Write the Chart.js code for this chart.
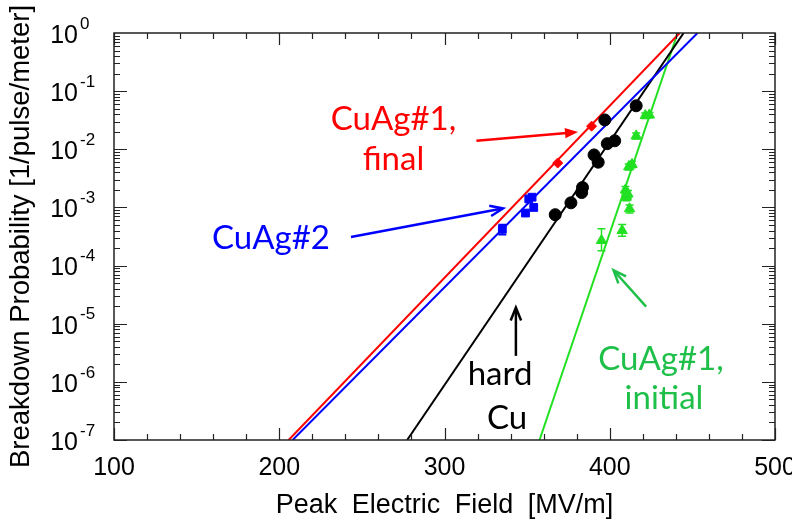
<!DOCTYPE html>
<html>
<head>
<meta charset="utf-8">
<script src="https://cdn.jsdelivr.net/npm/chart.js@4/dist/chart.umd.min.js"></script>
<style>
  html, body { margin: 0; padding: 0; background: #fff; }
</style>
</head>
<body>
<canvas id="bdr" width="792" height="525"></canvas>
<script>
// axis ticks
var fieldTicks = [100, 200, 300, 400, 500];
var probExponents = [0, -1, -2, -3, -4, -5, -6, -7];

// CuAg#2 (blue squares)
var cuag2Field = [335, 349, 351, 353, 354];
var cuag2Prob  = [4.2e-4, 8.0e-4, 1.4e-3, 1.5e-3, 1.0e-3];
var cuag2Lo    = [3.4e-4, null, null, null, null];
var cuag2Hi    = [5.1e-4, null, null, null, null];

// CuAg#1 final (red diamonds)
var finalField = [368.5, 389];
var finalProb  = [5.8e-3, 2.5e-2];

// hard Cu (black circles)
var hardCuField = [367, 376.5, 383, 383.5, 390.5, 393, 397, 398.5, 403, 416];
var hardCuProb  = [7.5e-4, 1.2e-3, 1.8e-3, 2.2e-3, 8.0e-3, 6.0e-3, 3.2e-2, 1.25e-2, 1.4e-2, 5.6e-2];

// CuAg#1 initial (green triangles)
var initialField = [395, 407.5, 409.5, 410, 411, 412, 411.5, 413.5, 416, 421.5, 424];
var initialProb  = [2.7e-4, 4.0e-4, 2.0e-3, 1.5e-3, 1.7e-3, 9.5e-4, 5.0e-3, 5.5e-3, 1.7e-2, 3.8e-2, 3.9e-2];
var initialLo    = [1.8e-4, 3.2e-4, 1.7e-3, 1.3e-3, 1.45e-3, 8.0e-4, 4.4e-3, 4.8e-3, 1.5e-2, 3.4e-2, 3.5e-2];
var initialHi    = [4.3e-4, 5.1e-4, 2.3e-3, 1.7e-3, 1.95e-3, 1.1e-3, 5.6e-3, 6.2e-3, 1.9e-2, 4.2e-2, 4.3e-2];

// exponential fits, end points on the frame
var fitProbEnds     = [1e-7, 1];
var fitFinalField   = [205.7, 442.3];
var fitCuag2Field   = [208.1, 453.1];
var fitHardCuField  = [277.4, 444.7];
var fitInitialField = [357.5, 441.1];

var RED = '#ff0000', BLUE = '#0000ff', BLACK = '#000000', GREEN = '#22e022', LABELGREEN = '#1fc04a';

function pts(xs, ys) {
  var out = [];
  for (var i = 0; i < xs.length; i++) out.push({x: xs[i], y: ys[i]});
  return out;
}

function fitSet(xs, color) {
  return {
    type: 'line', data: pts(xs, fitProbEnds), borderColor: color, borderWidth: 2,
    pointRadius: 0, fill: false, tension: 0, order: 10
  };
}

function markSet(xs, ys, color, style, r) {
  return {
    type: 'scatter', data: pts(xs, ys), backgroundColor: color, borderColor: color,
    pointStyle: style, pointRadius: r, borderWidth: 1, order: 1
  };
}

// text labels and arrows, placed in data units
var notes = [
  {text: 'CuAg#1,', color: RED, f: 269.1, p: 3.3e-2},
  {text: 'final', color: RED, f: 269.1, p: 6.7e-3},
  {text: 'CuAg#2', color: BLUE, f: 195.0, p: 2.9e-4},
  {text: 'hard', color: BLACK, f: 333.6, p: 1.35e-6},
  {text: 'Cu', color: BLACK, f: 337.8, p: 2.4e-7},
  {text: 'CuAg#1,', color: LABELGREEN, f: 431.0, p: 2.4e-6},
  {text: 'initial', color: LABELGREEN, f: 432.8, p: 5.3e-7}
];
var arrows = [
  {color: RED, from: [319.3, 1.40e-2], to: [380.8, 1.98e-2], filled: true},
  {color: BLUE, from: [243.4, 3.1e-4], to: [335.4, 9.6e-4], filled: false},
  {color: BLACK, from: [343.2, 2.8e-6], to: [343.2, 1.9e-5], filled: false},
  {color: LABELGREEN, from: [422.0, 1.97e-5], to: [402.3, 8.3e-5], filled: false}
];

var errorBars = {
  id: 'errorBars',
  beforeDatasetsDraw: function(chart) {
    var ctx = chart.ctx, xs = chart.scales.x, ys = chart.scales.y;
    function draw(fx, lo, hi, color) {
      ctx.strokeStyle = color; ctx.lineWidth = 1.5;
      for (var i = 0; i < fx.length; i++) {
        if (lo[i] == null) continue;
        var x = xs.getPixelForValue(fx[i]);
        var y1 = ys.getPixelForValue(lo[i]), y2 = ys.getPixelForValue(hi[i]);
        ctx.beginPath();
        ctx.moveTo(x, y1); ctx.lineTo(x, y2);
        ctx.moveTo(x - 4, y1); ctx.lineTo(x + 4, y1);
        ctx.moveTo(x - 4, y2); ctx.lineTo(x + 4, y2);
        ctx.stroke();
      }
    }
    ctx.save();
    draw(cuag2Field, cuag2Lo, cuag2Hi, BLUE);
    draw(initialField, initialLo, initialHi, GREEN);
    ctx.restore();
  }
};

var frame = {
  id: 'frame',
  afterDraw: function(chart) {
    var ctx = chart.ctx, a = chart.chartArea, xs = chart.scales.x, ys = chart.scales.y;
    ctx.save();
    ctx.strokeStyle = '#222'; ctx.lineWidth = 1.5;
    ctx.strokeRect(a.left, a.top, a.right - a.left, a.bottom - a.top);

    // inward ticks on all four sides
    ctx.lineWidth = 1.2;
    ctx.beginPath();
    for (var f = 100; f <= 500; f += 20) {
      var x = Math.round(xs.getPixelForValue(f)) + 0.5;
      var len = (f % 100 === 0) ? 12 : 6;
      ctx.moveTo(x, a.bottom); ctx.lineTo(x, a.bottom - len);
      ctx.moveTo(x, a.top); ctx.lineTo(x, a.top + len);
    }
    for (var e = -7; e < 0; e++) {
      for (var m = 1; m <= 9; m++) {
        var y = Math.round(ys.getPixelForValue(m * Math.pow(10, e))) + 0.5;
        var l = (m === 1) ? 13 : 6;
        ctx.moveTo(a.left, y); ctx.lineTo(a.left + l, y);
        ctx.moveTo(a.right, y); ctx.lineTo(a.right - l, y);
      }
    }
    ctx.stroke();

    // tick labels
    ctx.fillStyle = '#000';
    ctx.font = '25px "Liberation Sans", Arial, sans-serif';
    ctx.textAlign = 'center'; ctx.textBaseline = 'middle';
    fieldTicks.forEach(function(v) {
      ctx.fillText(String(v), xs.getPixelForValue(v), 468);
    });
    probExponents.forEach(function(ex) {
      var y = ys.getPixelForValue(Math.pow(10, ex));
      ctx.font = '25px "Liberation Sans", Arial, sans-serif';
      ctx.textAlign = 'right'; ctx.textBaseline = 'middle';
      ctx.fillText('10', 78, y + 3);
      ctx.font = '17px "Liberation Sans", Arial, sans-serif';
      ctx.textAlign = 'left';
      ctx.fillText(String(ex), 80, y - 9);
    });

    // axis titles
    ctx.font = '27px "Liberation Sans", Arial, sans-serif';
    ctx.textAlign = 'center'; ctx.textBaseline = 'middle';
    if ('wordSpacing' in ctx) ctx.wordSpacing = '7px';
    ctx.fillText('Peak Electric Field [MV/m]', (a.left + a.right) / 2, 506);
    if ('wordSpacing' in ctx) ctx.wordSpacing = '0px';
    ctx.font = '27.5px "Liberation Sans", Arial, sans-serif';
    ctx.translate(21, (a.top + a.bottom) / 2);
    ctx.rotate(-Math.PI / 2);
    ctx.fillText('Breakdown Probability [1/pulse/meter]', 0, 0);
    ctx.restore();

    // annotations
    ctx.save();
    ctx.font = '33px Lato, "Open Sans", sans-serif';
    ctx.textAlign = 'center'; ctx.textBaseline = 'middle';
    notes.forEach(function(n) {
      ctx.fillStyle = n.color;
      ctx.fillText(n.text, xs.getPixelForValue(n.f), ys.getPixelForValue(n.p));
    });
    arrows.forEach(function(ar) {
      var x1 = xs.getPixelForValue(ar.from[0]), y1 = ys.getPixelForValue(ar.from[1]);
      var x2 = xs.getPixelForValue(ar.to[0]), y2 = ys.getPixelForValue(ar.to[1]);
      var ang = Math.atan2(y2 - y1, x2 - x1), hl = 14, hw = 0.38;
      ctx.strokeStyle = ar.color; ctx.fillStyle = ar.color; ctx.lineWidth = 2.5;
      ctx.beginPath(); ctx.moveTo(x1, y1);
      ctx.lineTo(x2 - Math.cos(ang) * (ar.filled ? hl * 0.8 : 2), y2 - Math.sin(ang) * (ar.filled ? hl * 0.8 : 2));
      ctx.stroke();
      ctx.beginPath();
      ctx.moveTo(x2 - hl * Math.cos(ang - hw), y2 - hl * Math.sin(ang - hw));
      ctx.lineTo(x2, y2);
      ctx.lineTo(x2 - hl * Math.cos(ang + hw), y2 - hl * Math.sin(ang + hw));
      if (ar.filled) { ctx.closePath(); ctx.fill(); } else { ctx.stroke(); }
    });
    ctx.restore();
  }
};

new Chart(document.getElementById('bdr'), {
  data: {
    datasets: [
      fitSet(fitFinalField, RED),
      fitSet(fitCuag2Field, BLUE),
      fitSet(fitHardCuField, BLACK),
      fitSet(fitInitialField, GREEN),
      markSet(finalField, finalProb, RED, 'rectRot', 5),
      markSet(cuag2Field, cuag2Prob, BLUE, 'rect', 5.5),
      markSet(hardCuField, hardCuProb, BLACK, 'circle', 6),
      markSet(initialField, initialProb, GREEN, 'triangle', 6)
    ]
  },
  options: {
    responsive: false,
    animation: false,
    layout: {padding: {left: 106, right: 17, top: 33, bottom: 77}},
    plugins: {legend: {display: false}, tooltip: {enabled: false}},
    scales: {
      x: {
        type: 'linear', min: 100, max: 500,
        grid: {display: false}, border: {display: false}, ticks: {display: false}
      },
      y: {
        type: 'logarithmic', min: 1e-7, max: 1,
        grid: {display: false}, border: {display: false}, ticks: {display: false}
      }
    }
  },
  plugins: [errorBars, frame]
});
</script>
</body>
</html>
